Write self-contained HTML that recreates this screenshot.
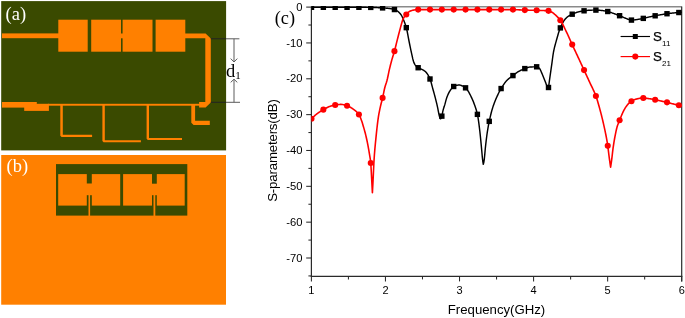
<!DOCTYPE html>
<html><head><meta charset="utf-8"><title>Figure</title>
<style>
html,body{margin:0;padding:0;background:#fff;}
svg{display:block}
.serif{font-family:"Liberation Serif",serif}
.sans{font-family:"Liberation Sans",sans-serif}
</style></head><body>
<svg width="685" height="318" viewBox="0 0 685 318">
<rect width="685" height="318" fill="#fff"/>
<!-- panel a -->
<rect x="1.2" y="1.1" width="224.9" height="149.3" fill="#3a4a00"/>
<g fill="#ff8000">
<rect x="2" y="33.4" width="57" height="4.8"/>
<rect x="58.3" y="19.7" width="29.4" height="32"/>
<rect x="91.2" y="19.7" width="29.8" height="32"/>
<rect x="120.5" y="33.5" width="3" height="4.8"/>
<rect x="122.6" y="19.7" width="29.9" height="32"/>
<rect x="155.6" y="19.7" width="29.7" height="32"/>
<path d="M185,33.4 L205.6,33.4 L210.8,38.4 L210.8,102.4 L205.6,107.4 L199.1,107.4 L199.1,102 L205.3,102 L205.3,38.3 L185,38.3 Z"/>
<rect x="2" y="102" width="34.8" height="5.6"/>
<rect x="24.2" y="103.8" width="24.7" height="7.1"/>
<rect x="48" y="103.8" width="152" height="1.9"/>
<path d="M60.3,105 L62.8,105 L62.8,134.8 L92.1,134.8 L92.1,137 L61.6,137 L60.3,135.7 Z"/>
<path d="M102.4,105 L104.8,105 L104.8,140.2 L140.9,140.2 L140.9,142.2 L103.6,142.2 L102.4,141 Z"/>
<path d="M146.6,105 L149,105 L149,137.9 L182,137.9 L182,140 L147.8,140 L146.6,138.8 Z"/>
<path d="M191.3,105 L195.1,105 L195.1,120.8 L209.8,120.8 L209.8,125 L193.6,125 L191.3,122.7 Z"/>
</g>
<text class="serif" transform="translate(15.8,20) scale(0.965,1)" text-anchor="middle" font-size="19.2" fill="#fff">(a)</text>
<!-- dimension -->
<g stroke="#222" stroke-width="1" fill="none">
<line x1="210.8" y1="38.8" x2="226" y2="38.8"/><line x1="210.8" y1="102.3" x2="226" y2="102.3"/>
</g>
<g stroke="#5c5c5c" stroke-width="1" fill="none">
<line x1="226" y1="38.8" x2="239.4" y2="38.8"/><line x1="226" y1="102.3" x2="240" y2="102.3"/>
<line x1="234" y1="38.8" x2="234" y2="61.5"/><path d="M230.7,58.6 L234,62 L237.3,58.6"/>
<line x1="234" y1="102.3" x2="234" y2="79.7"/><path d="M230.7,82.4 L234,79.2 L237.3,82.4"/>
</g>
<text class="serif" x="226.1" y="76.7" font-size="18.5" fill="#000">d<tspan font-size="11" dy="2">1</tspan></text>
<!-- panel b -->
<rect x="1.2" y="155" width="224.8" height="149.7" fill="#ff8000"/>
<rect x="56" y="164.1" width="131.3" height="51.5" fill="#3a4a00"/>
<g fill="#ff8000">
<rect x="58.2" y="174.1" width="28.6" height="31.5"/>
<rect x="91.8" y="174.1" width="28.4" height="31.5"/>
<rect x="123.1" y="174.1" width="28.9" height="31.5"/>
<rect x="156.8" y="174.1" width="27.9" height="31.5"/>
<rect x="86" y="183.5" width="6.5" height="11.7"/>
<rect x="151.5" y="183.7" width="6" height="11.5"/>
<rect x="88.5" y="195" width="1.6" height="21"/>
<rect x="153.5" y="195" width="1.8" height="21"/>
</g>
<text class="serif" transform="translate(17.3,171.9) scale(0.95,1)" text-anchor="middle" font-size="19.4" fill="#fff">(b)</text>
<!-- chart -->
<text class="serif" transform="translate(284.9,24.4) scale(0.955,1)" text-anchor="middle" font-size="19.2" fill="#000">(c)</text>
<defs><clipPath id="cp"><rect x="311.4" y="6.1" width="370.80000000000007" height="270.29999999999995"/></clipPath></defs>
<g stroke="#8a8a8a" stroke-width="1.6" fill="none">
<line x1="311.4" y1="6.8" x2="681.7" y2="6.8"/>
</g>
<g stroke="#2a2a2a" stroke-width="1.2" fill="none">
<line x1="311.4" y1="6.6" x2="311.4" y2="277.04999999999995"/>
<line x1="310.75" y1="276.4" x2="682.35" y2="276.4"/>
<line x1="681.7" y1="6.6" x2="681.7" y2="281.4"/>
</g>
<g stroke="#2a2a2a" stroke-width="1.05" fill="none"><line x1="306.2" y1="7.10" x2="311.4" y2="7.10"/><line x1="308.4" y1="25.02" x2="311.4" y2="25.02"/><line x1="306.2" y1="42.94" x2="311.4" y2="42.94"/><line x1="308.4" y1="60.86" x2="311.4" y2="60.86"/><line x1="306.2" y1="78.79" x2="311.4" y2="78.79"/><line x1="308.4" y1="96.71" x2="311.4" y2="96.71"/><line x1="306.2" y1="114.63" x2="311.4" y2="114.63"/><line x1="308.4" y1="132.55" x2="311.4" y2="132.55"/><line x1="306.2" y1="150.47" x2="311.4" y2="150.47"/><line x1="308.4" y1="168.39" x2="311.4" y2="168.39"/><line x1="306.2" y1="186.31" x2="311.4" y2="186.31"/><line x1="308.4" y1="204.24" x2="311.4" y2="204.24"/><line x1="306.2" y1="222.16" x2="311.4" y2="222.16"/><line x1="308.4" y1="240.08" x2="311.4" y2="240.08"/><line x1="306.2" y1="258.00" x2="311.4" y2="258.00"/><line x1="308.4" y1="275.92" x2="311.4" y2="275.92"/><line x1="311.40" y1="276.4" x2="311.40" y2="281.4"/><line x1="348.43" y1="276.4" x2="348.43" y2="279.4"/><line x1="385.46" y1="276.4" x2="385.46" y2="281.4"/><line x1="422.49" y1="276.4" x2="422.49" y2="279.4"/><line x1="459.52" y1="276.4" x2="459.52" y2="281.4"/><line x1="496.55" y1="276.4" x2="496.55" y2="279.4"/><line x1="533.58" y1="276.4" x2="533.58" y2="281.4"/><line x1="570.61" y1="276.4" x2="570.61" y2="279.4"/><line x1="607.64" y1="276.4" x2="607.64" y2="281.4"/><line x1="644.67" y1="276.4" x2="644.67" y2="279.4"/><line x1="681.70" y1="276.4" x2="681.70" y2="281.4"/></g>
<g class="sans" font-size="10.5" fill="#000"><text transform="translate(302.4,10.70) scale(1.07,1)" text-anchor="end">0</text><text transform="translate(302.4,46.54) scale(1.07,1)" text-anchor="end">-10</text><text transform="translate(302.4,82.39) scale(1.07,1)" text-anchor="end">-20</text><text transform="translate(302.4,118.23) scale(1.07,1)" text-anchor="end">-30</text><text transform="translate(302.4,154.07) scale(1.07,1)" text-anchor="end">-40</text><text transform="translate(302.4,189.91) scale(1.07,1)" text-anchor="end">-50</text><text transform="translate(302.4,225.76) scale(1.07,1)" text-anchor="end">-60</text><text transform="translate(302.4,261.60) scale(1.07,1)" text-anchor="end">-70</text><text transform="translate(311.40,293.8) scale(1.05,1)" text-anchor="middle">1</text><text transform="translate(385.46,293.8) scale(1.05,1)" text-anchor="middle">2</text><text transform="translate(459.52,293.8) scale(1.05,1)" text-anchor="middle">3</text><text transform="translate(533.58,293.8) scale(1.05,1)" text-anchor="middle">4</text><text transform="translate(607.64,293.8) scale(1.05,1)" text-anchor="middle">5</text><text transform="translate(681.70,293.8) scale(1.05,1)" text-anchor="middle">6</text></g>
<text class="sans" font-size="13.3" letter-spacing="-0.2" fill="#000" text-anchor="middle" transform="translate(277.4,150.6) rotate(-90)">S-parameters(dB)</text>
<text class="sans" font-size="13.2" fill="#000" text-anchor="middle" x="496.5" y="314">Frequency(GHz)</text>
<g clip-path="url(#cp)">
<path d="M311.3,7.30 L311.8,7.30 L312.3,7.30 L312.8,7.30 L313.3,7.30 L313.8,7.30 L314.3,7.30 L314.8,7.30 L315.3,7.30 L315.8,7.30 L316.3,7.30 L316.8,7.30 L317.3,7.30 L317.8,7.30 L318.3,7.30 L318.8,7.30 L319.3,7.30 L319.8,7.30 L320.3,7.30 L320.8,7.30 L321.3,7.30 L321.8,7.30 L322.3,7.30 L322.8,7.30 L323.3,7.30 L323.8,7.30 L324.3,7.30 L324.8,7.30 L325.3,7.30 L325.8,7.30 L326.3,7.30 L326.8,7.30 L327.3,7.30 L327.8,7.30 L328.3,7.30 L328.8,7.30 L329.3,7.30 L329.8,7.30 L330.3,7.30 L330.8,7.30 L331.3,7.30 L331.8,7.30 L332.3,7.30 L332.8,7.30 L333.3,7.30 L333.8,7.30 L334.3,7.30 L334.8,7.30 L335.3,7.30 L335.8,7.30 L336.3,7.30 L336.8,7.30 L337.3,7.30 L337.8,7.30 L338.3,7.30 L338.8,7.30 L339.3,7.30 L339.8,7.30 L340.3,7.30 L340.8,7.30 L341.3,7.30 L341.8,7.30 L342.3,7.30 L342.8,7.30 L343.3,7.30 L343.8,7.30 L344.3,7.30 L344.8,7.30 L345.3,7.30 L345.8,7.30 L346.3,7.30 L346.8,7.30 L347.3,7.30 L347.8,7.30 L348.3,7.30 L348.8,7.30 L349.3,7.30 L349.8,7.30 L350.3,7.30 L350.8,7.30 L351.3,7.30 L351.8,7.30 L352.3,7.30 L352.8,7.30 L353.3,7.30 L353.8,7.30 L354.3,7.30 L354.8,7.30 L355.3,7.30 L355.8,7.30 L356.3,7.30 L356.8,7.30 L357.3,7.30 L357.8,7.30 L358.3,7.30 L358.8,7.30 L359.3,7.30 L359.8,7.30 L360.3,7.30 L360.8,7.30 L361.3,7.30 L361.8,7.31 L362.3,7.31 L362.8,7.31 L363.3,7.32 L363.8,7.32 L364.3,7.32 L364.8,7.33 L365.3,7.33 L365.8,7.34 L366.3,7.34 L366.8,7.35 L367.3,7.36 L367.8,7.36 L368.3,7.37 L368.8,7.37 L369.3,7.38 L369.8,7.39 L370.3,7.39 L370.8,7.40 L371.3,7.41 L371.8,7.42 L372.3,7.43 L372.8,7.44 L373.3,7.46 L373.8,7.47 L374.3,7.49 L374.8,7.51 L375.3,7.53 L375.8,7.55 L376.3,7.57 L376.8,7.59 L377.3,7.62 L377.8,7.64 L378.3,7.67 L378.8,7.69 L379.3,7.72 L379.8,7.75 L380.3,7.78 L380.8,7.81 L381.3,7.83 L381.8,7.86 L382.3,7.89 L382.8,7.92 L383.3,7.96 L383.8,7.99 L384.3,8.03 L384.8,8.06 L385.3,8.10 L385.8,8.14 L386.3,8.19 L386.8,8.24 L387.3,8.28 L387.8,8.34 L388.3,8.39 L388.8,8.45 L389.3,8.51 L389.8,8.57 L390.3,8.64 L390.8,8.72 L391.3,8.80 L391.8,8.89 L392.3,8.99 L392.8,9.10 L393.3,9.23 L393.8,9.36 L394.3,9.51 L394.8,9.67 L395.3,9.86 L395.8,10.10 L396.3,10.37 L396.8,10.67 L397.3,11.00 L397.8,11.35 L398.3,11.73 L398.8,12.16 L399.3,12.65 L399.8,13.19 L400.3,13.78 L400.8,14.44 L401.3,15.15 L401.8,16.00 L402.3,16.99 L402.8,18.09 L403.3,19.27 L403.8,20.50 L404.3,21.75 L404.8,23.06 L405.3,24.45 L405.8,25.98 L406.3,27.67 L406.8,29.62 L407.3,32.01 L407.8,34.67 L408.3,37.40 L408.8,40.00 L409.3,42.49 L409.8,44.99 L410.3,47.47 L410.8,49.87 L411.3,52.16 L411.8,54.40 L412.3,56.70 L412.8,58.90 L413.3,60.84 L413.8,62.36 L414.3,63.45 L414.8,64.37 L415.3,65.14 L415.8,65.78 L416.3,66.31 L416.8,66.77 L417.3,67.17 L417.8,67.51 L418.3,67.82 L418.8,68.09 L419.3,68.32 L419.8,68.54 L420.3,68.75 L420.8,68.97 L421.3,69.20 L421.8,69.45 L422.3,69.70 L422.8,69.94 L423.3,70.19 L423.8,70.46 L424.3,70.76 L424.8,71.10 L425.3,71.48 L425.8,71.96 L426.3,72.54 L426.8,73.19 L427.3,73.92 L427.8,74.68 L428.3,75.49 L428.8,76.39 L429.3,77.39 L429.8,78.51 L430.3,79.77 L430.8,81.29 L431.3,83.07 L431.8,84.97 L432.3,86.89 L432.8,88.72 L433.3,90.51 L433.8,92.31 L434.3,94.13 L434.8,95.99 L435.3,97.90 L435.8,99.86 L436.3,101.86 L436.8,103.93 L437.3,106.10 L437.8,108.45 L438.3,111.06 L438.8,113.50 L439.3,115.73 L439.8,117.50 L440.3,118.73 L440.8,118.68 L441.3,117.80 L441.8,116.33 L442.3,114.20 L442.8,111.42 L443.3,109.39 L443.8,107.83 L444.3,106.34 L444.8,104.66 L445.3,102.82 L445.8,100.93 L446.3,99.13 L446.8,97.55 L447.3,96.24 L447.8,95.04 L448.3,93.92 L448.8,92.89 L449.3,91.94 L449.8,91.07 L450.3,90.29 L450.8,89.58 L451.3,88.91 L451.8,88.28 L452.3,87.71 L452.8,87.20 L453.3,86.78 L453.8,86.44 L454.3,86.15 L454.8,85.89 L455.3,85.66 L455.8,85.48 L456.3,85.34 L456.8,85.25 L457.3,85.17 L457.8,85.10 L458.3,85.04 L458.8,85.01 L459.3,85.00 L459.8,85.05 L460.3,85.16 L460.8,85.32 L461.3,85.50 L461.8,85.71 L462.3,85.92 L462.8,86.13 L463.3,86.36 L463.8,86.63 L464.3,86.93 L464.8,87.27 L465.3,87.64 L465.8,88.06 L466.3,88.59 L466.8,89.20 L467.3,89.86 L467.8,90.58 L468.3,91.36 L468.8,92.20 L469.3,93.10 L469.8,94.04 L470.3,95.02 L470.8,96.03 L471.3,97.07 L471.8,98.11 L472.3,99.19 L472.8,100.34 L473.3,101.56 L473.8,102.87 L474.3,104.19 L474.8,105.53 L475.3,106.93 L475.8,108.42 L476.3,110.05 L476.8,111.87 L477.3,113.91 L477.8,116.30 L478.3,119.35 L478.8,122.93 L479.3,126.87 L479.8,131.00 L480.3,135.55 L480.8,140.65 L481.3,145.92 L481.8,151.30 L482.3,157.00 L482.8,161.42 L483.3,164.30 L483.8,162.37 L484.3,159.25 L484.8,154.10 L485.3,148.44 L485.8,143.87 L486.3,139.68 L486.8,135.77 L487.3,132.21 L487.8,129.04 L488.3,126.16 L488.8,123.55 L489.3,121.13 L489.8,118.83 L490.3,116.63 L490.8,114.53 L491.3,112.55 L491.8,110.68 L492.3,108.95 L492.8,107.35 L493.3,105.84 L493.8,104.41 L494.3,103.05 L494.8,101.75 L495.3,100.50 L495.8,99.30 L496.3,98.13 L496.8,97.00 L497.3,95.89 L497.8,94.82 L498.3,93.77 L498.8,92.76 L499.3,91.79 L499.8,90.85 L500.3,89.94 L500.8,89.07 L501.3,88.24 L501.8,87.42 L502.3,86.62 L502.8,85.84 L503.3,85.07 L503.8,84.33 L504.3,83.61 L504.8,82.92 L505.3,82.26 L505.8,81.64 L506.3,81.05 L506.8,80.51 L507.3,80.00 L507.8,79.53 L508.3,79.09 L508.8,78.67 L509.3,78.28 L509.8,77.90 L510.3,77.53 L510.8,77.16 L511.3,76.80 L511.8,76.44 L512.3,76.08 L512.8,75.70 L513.3,75.31 L513.8,74.92 L514.3,74.52 L514.8,74.13 L515.3,73.74 L515.8,73.35 L516.3,72.97 L516.8,72.61 L517.3,72.26 L517.8,71.93 L518.3,71.62 L518.8,71.33 L519.3,71.05 L519.8,70.78 L520.3,70.52 L520.8,70.27 L521.3,70.03 L521.8,69.80 L522.3,69.57 L522.8,69.36 L523.3,69.15 L523.8,68.96 L524.3,68.77 L524.8,68.59 L525.3,68.41 L525.8,68.23 L526.3,68.04 L526.8,67.87 L527.3,67.70 L527.8,67.54 L528.3,67.39 L528.8,67.26 L529.3,67.15 L529.8,67.07 L530.3,67.01 L530.8,66.98 L531.3,66.96 L531.8,66.93 L532.3,66.91 L532.8,66.88 L533.3,66.86 L533.8,66.85 L534.3,66.83 L534.8,66.82 L535.3,66.81 L535.8,66.80 L536.3,66.80 L536.8,66.81 L537.3,66.93 L537.8,67.16 L538.3,67.49 L538.8,67.88 L539.3,68.32 L539.8,68.85 L540.3,69.69 L540.8,70.76 L541.3,71.95 L541.8,73.14 L542.3,74.28 L542.8,75.48 L543.3,76.72 L543.8,77.99 L544.3,79.26 L544.8,80.51 L545.3,81.76 L545.8,83.10 L546.3,84.39 L546.8,85.46 L547.3,86.24 L547.8,86.88 L548.3,87.36 L548.5,87.50 L549.0,83.81 L549.5,80.16 L550.0,76.57 L550.5,73.06 L551.0,69.58 L551.5,66.10 L552.0,62.55 L552.5,58.76 L553.0,55.08 L553.5,52.00 L554.0,49.56 L554.5,47.41 L555.0,45.47 L555.5,43.65 L556.0,41.86 L556.5,40.05 L557.0,38.24 L557.5,36.46 L558.0,34.73 L558.5,33.08 L559.0,31.51 L559.5,30.06 L560.0,28.75 L560.5,27.54 L561.0,26.39 L561.5,25.28 L562.0,24.23 L562.5,23.24 L563.0,22.31 L563.5,21.45 L564.0,20.67 L564.5,19.96 L565.0,19.33 L565.5,18.75 L566.0,18.22 L566.5,17.73 L567.0,17.28 L567.5,16.87 L568.0,16.50 L568.5,16.16 L569.0,15.84 L569.5,15.55 L570.0,15.27 L570.5,15.01 L571.0,14.76 L571.5,14.52 L572.0,14.29 L572.5,14.06 L573.0,13.84 L573.5,13.62 L574.0,13.41 L574.5,13.20 L575.0,13.00 L575.5,12.81 L576.0,12.62 L576.5,12.45 L577.0,12.29 L577.5,12.14 L578.0,12.00 L578.5,11.87 L579.0,11.75 L579.5,11.63 L580.0,11.52 L580.5,11.42 L581.0,11.31 L581.5,11.22 L582.0,11.13 L582.5,11.04 L583.0,10.96 L583.5,10.88 L584.0,10.81 L584.5,10.75 L585.0,10.68 L585.5,10.61 L586.0,10.55 L586.5,10.49 L587.0,10.43 L587.5,10.37 L588.0,10.33 L588.5,10.28 L589.0,10.25 L589.5,10.22 L590.0,10.20 L590.5,10.19 L591.0,10.17 L591.5,10.16 L592.0,10.15 L592.5,10.14 L593.0,10.13 L593.5,10.12 L594.0,10.11 L594.5,10.11 L595.0,10.10 L595.5,10.10 L596.0,10.10 L596.5,10.11 L597.0,10.12 L597.5,10.14 L598.0,10.17 L598.5,10.21 L599.0,10.25 L599.5,10.29 L600.0,10.33 L600.5,10.38 L601.0,10.43 L601.5,10.48 L602.0,10.53 L602.5,10.59 L603.0,10.65 L603.5,10.72 L604.0,10.79 L604.5,10.87 L605.0,10.96 L605.5,11.05 L606.0,11.14 L606.5,11.24 L607.0,11.35 L607.5,11.46 L608.0,11.57 L608.5,11.70 L609.0,11.84 L609.5,11.99 L610.0,12.16 L610.5,12.33 L611.0,12.51 L611.5,12.69 L612.0,12.88 L612.5,13.06 L613.0,13.25 L613.5,13.43 L614.0,13.61 L614.5,13.79 L615.0,13.97 L615.5,14.15 L616.0,14.33 L616.5,14.52 L617.0,14.71 L617.5,14.90 L618.0,15.09 L618.5,15.29 L619.0,15.48 L619.5,15.68 L620.0,15.88 L620.5,16.09 L621.0,16.30 L621.5,16.52 L622.0,16.74 L622.5,16.97 L623.0,17.19 L623.5,17.41 L624.0,17.63 L624.5,17.84 L625.0,18.04 L625.5,18.23 L626.0,18.41 L626.5,18.61 L627.0,18.81 L627.5,19.02 L628.0,19.22 L628.5,19.42 L629.0,19.60 L629.5,19.77 L630.0,19.90 L630.5,20.01 L631.0,20.08 L631.5,20.10 L632.0,20.09 L632.5,20.07 L633.0,20.04 L633.5,20.00 L634.0,19.94 L634.5,19.88 L635.0,19.82 L635.5,19.75 L636.0,19.68 L636.5,19.61 L637.0,19.54 L637.5,19.47 L638.0,19.40 L638.5,19.32 L639.0,19.24 L639.5,19.15 L640.0,19.05 L640.5,18.96 L641.0,18.86 L641.5,18.75 L642.0,18.65 L642.5,18.55 L643.0,18.44 L643.5,18.34 L644.0,18.23 L644.5,18.11 L645.0,17.99 L645.5,17.87 L646.0,17.74 L646.5,17.62 L647.0,17.49 L647.5,17.37 L648.0,17.25 L648.5,17.13 L649.0,17.02 L649.5,16.91 L650.0,16.81 L650.5,16.70 L651.0,16.60 L651.5,16.50 L652.0,16.40 L652.5,16.30 L653.0,16.20 L653.5,16.11 L654.0,16.01 L654.5,15.91 L655.0,15.82 L655.5,15.72 L656.0,15.63 L656.5,15.53 L657.0,15.44 L657.5,15.35 L658.0,15.25 L658.5,15.16 L659.0,15.07 L659.5,14.98 L660.0,14.89 L660.5,14.80 L661.0,14.72 L661.5,14.63 L662.0,14.54 L662.5,14.46 L663.0,14.37 L663.5,14.28 L664.0,14.20 L664.5,14.11 L665.0,14.03 L665.5,13.95 L666.0,13.87 L666.5,13.80 L667.0,13.73 L667.5,13.66 L668.0,13.59 L668.5,13.53 L669.0,13.47 L669.5,13.40 L670.0,13.34 L670.5,13.29 L671.0,13.23 L671.5,13.17 L672.0,13.12 L672.5,13.07 L673.0,13.02 L673.5,12.97 L674.0,12.92 L674.5,12.88 L675.0,12.84 L675.5,12.80 L676.0,12.75 L676.5,12.71 L677.0,12.67 L677.5,12.64 L678.0,12.60 L678.5,12.56 L679.0,12.52 L679.5,12.48 L680.0,12.44 L680.5,12.40 L681.0,12.36 L681.5,12.32 L681.7,12.30" fill="none" stroke="#000" stroke-width="1.45" stroke-linejoin="round"/>
<g fill="#000"><rect x="308.80" y="4.60" width="5.4" height="5.4"/><rect x="320.65" y="4.60" width="5.4" height="5.4"/><rect x="332.50" y="4.60" width="5.4" height="5.4"/><rect x="344.35" y="4.60" width="5.4" height="5.4"/><rect x="356.20" y="4.60" width="5.4" height="5.4"/><rect x="368.05" y="4.70" width="5.4" height="5.4"/><rect x="379.90" y="5.21" width="5.4" height="5.4"/><rect x="391.75" y="6.85" width="5.4" height="5.4"/><rect x="403.60" y="24.97" width="5.4" height="5.4"/><rect x="415.45" y="65.03" width="5.4" height="5.4"/><rect x="427.30" y="76.29" width="5.4" height="5.4"/><rect x="439.15" y="113.45" width="5.4" height="5.4"/><rect x="451.00" y="83.80" width="5.4" height="5.4"/><rect x="462.85" y="85.14" width="5.4" height="5.4"/><rect x="474.70" y="111.65" width="5.4" height="5.4"/><rect x="486.55" y="118.66" width="5.4" height="5.4"/><rect x="498.40" y="85.86" width="5.4" height="5.4"/><rect x="510.25" y="72.89" width="5.4" height="5.4"/><rect x="522.10" y="65.89" width="5.4" height="5.4"/><rect x="533.95" y="64.10" width="5.4" height="5.4"/><rect x="545.80" y="84.80" width="5.4" height="5.4"/><rect x="557.65" y="25.20" width="5.4" height="5.4"/><rect x="569.50" y="11.50" width="5.4" height="5.4"/><rect x="581.35" y="8.11" width="5.4" height="5.4"/><rect x="593.20" y="7.40" width="5.4" height="5.4"/><rect x="605.05" y="8.81" width="5.4" height="5.4"/><rect x="616.90" y="13.02" width="5.4" height="5.4"/><rect x="628.75" y="17.40" width="5.4" height="5.4"/><rect x="640.60" y="15.68" width="5.4" height="5.4"/><rect x="652.45" y="13.09" width="5.4" height="5.4"/><rect x="664.30" y="11.03" width="5.4" height="5.4"/><rect x="676.15" y="9.83" width="5.4" height="5.4"/></g>
<path d="M311.3,118.90 L311.8,118.40 L312.3,117.91 L312.8,117.43 L313.3,116.95 L313.8,116.49 L314.3,116.04 L314.8,115.60 L315.3,115.17 L315.8,114.75 L316.3,114.34 L316.8,113.95 L317.3,113.57 L317.8,113.20 L318.3,112.85 L318.8,112.49 L319.3,112.15 L319.8,111.82 L320.3,111.49 L320.8,111.17 L321.3,110.86 L321.8,110.55 L322.3,110.25 L322.8,109.95 L323.3,109.66 L323.8,109.37 L324.3,109.08 L324.8,108.79 L325.3,108.50 L325.8,108.22 L326.3,107.94 L326.8,107.68 L327.3,107.43 L327.8,107.19 L328.3,106.97 L328.8,106.77 L329.3,106.59 L329.8,106.42 L330.3,106.25 L330.8,106.08 L331.3,105.92 L331.8,105.77 L332.3,105.63 L332.8,105.50 L333.3,105.37 L333.8,105.26 L334.3,105.16 L334.8,105.06 L335.3,104.99 L335.8,104.91 L336.3,104.84 L336.8,104.76 L337.3,104.69 L337.8,104.63 L338.3,104.57 L338.8,104.52 L339.3,104.47 L339.8,104.44 L340.3,104.41 L340.8,104.40 L341.3,104.40 L341.8,104.43 L342.3,104.49 L342.8,104.56 L343.3,104.66 L343.8,104.77 L344.3,104.89 L344.8,105.03 L345.3,105.17 L345.8,105.33 L346.3,105.48 L346.8,105.64 L347.3,105.80 L347.8,105.98 L348.3,106.19 L348.8,106.43 L349.3,106.68 L349.8,106.95 L350.3,107.24 L350.8,107.54 L351.3,107.86 L351.8,108.18 L352.3,108.52 L352.8,108.86 L353.3,109.21 L353.8,109.56 L354.3,109.91 L354.8,110.28 L355.3,110.67 L355.8,111.08 L356.3,111.52 L356.8,111.99 L357.3,112.50 L357.8,113.06 L358.3,113.66 L358.8,114.32 L359.3,115.08 L359.8,116.08 L360.3,117.27 L360.8,118.58 L361.3,119.95 L361.8,121.35 L362.3,122.87 L362.8,124.49 L363.3,126.18 L363.8,127.90 L364.3,129.63 L364.8,131.43 L365.3,133.31 L365.8,135.32 L366.3,137.49 L366.8,139.79 L367.3,142.19 L367.8,144.71 L368.3,147.35 L368.8,150.12 L369.3,153.03 L369.8,156.12 L370.3,159.16 L370.8,163.52 L371.3,171.96 L371.8,181.51 L372.3,190.88 L372.4,192.80 L372.9,183.57 L373.4,173.31 L373.9,162.47 L374.4,154.71 L374.9,148.58 L375.4,143.27 L375.9,138.30 L376.4,133.41 L376.9,128.72 L377.4,124.35 L377.9,120.39 L378.4,116.96 L378.9,113.97 L379.4,111.29 L379.9,108.85 L380.4,106.55 L380.9,104.47 L381.4,102.57 L381.9,100.70 L382.4,98.74 L382.9,96.55 L383.4,94.10 L383.9,91.60 L384.4,89.25 L384.9,87.24 L385.4,85.54 L385.9,83.98 L386.4,82.43 L386.9,80.75 L387.4,78.78 L387.9,76.53 L388.4,74.12 L388.9,71.71 L389.4,69.43 L389.9,67.33 L390.4,65.31 L390.9,63.36 L391.4,61.47 L391.9,59.64 L392.4,57.92 L392.9,56.28 L393.4,54.67 L393.9,53.03 L394.4,51.32 L394.9,49.48 L395.4,47.51 L395.9,45.48 L396.4,43.42 L396.9,41.40 L397.4,39.42 L397.9,37.44 L398.4,35.47 L398.9,33.53 L399.4,31.62 L399.9,29.73 L400.4,27.86 L400.9,26.05 L401.4,24.30 L401.9,22.49 L402.4,20.77 L402.9,19.34 L403.4,18.34 L403.9,17.52 L404.4,16.83 L404.9,16.21 L405.4,15.63 L405.9,15.04 L406.4,14.42 L406.9,13.79 L407.4,13.19 L407.9,12.65 L408.4,12.22 L408.9,11.86 L409.4,11.54 L409.9,11.26 L410.4,11.02 L410.9,10.83 L411.4,10.65 L411.9,10.49 L412.4,10.35 L412.9,10.22 L413.4,10.11 L413.9,10.02 L414.4,9.94 L414.9,9.86 L415.4,9.78 L415.9,9.72 L416.4,9.66 L416.9,9.62 L417.4,9.60 L417.9,9.60 L418.4,9.60 L418.9,9.60 L419.4,9.60 L419.9,9.60 L420.4,9.60 L420.9,9.60 L421.4,9.60 L421.9,9.60 L422.4,9.60 L422.9,9.60 L423.4,9.60 L423.9,9.60 L424.4,9.60 L424.9,9.60 L425.4,9.60 L425.9,9.60 L426.4,9.60 L426.9,9.60 L427.4,9.60 L427.9,9.60 L428.4,9.60 L428.9,9.60 L429.4,9.60 L429.9,9.60 L430.4,9.60 L430.9,9.60 L431.4,9.60 L431.9,9.60 L432.4,9.60 L432.9,9.60 L433.4,9.60 L433.9,9.60 L434.4,9.60 L434.9,9.60 L435.4,9.60 L435.9,9.60 L436.4,9.60 L436.9,9.60 L437.4,9.60 L437.9,9.60 L438.4,9.60 L438.9,9.60 L439.4,9.60 L439.9,9.60 L440.4,9.60 L440.9,9.60 L441.4,9.60 L441.9,9.60 L442.4,9.60 L442.9,9.60 L443.4,9.60 L443.9,9.60 L444.4,9.60 L444.9,9.60 L445.4,9.60 L445.9,9.60 L446.4,9.60 L446.9,9.60 L447.4,9.60 L447.9,9.60 L448.4,9.60 L448.9,9.60 L449.4,9.60 L449.9,9.60 L450.4,9.60 L450.9,9.60 L451.4,9.60 L451.9,9.60 L452.4,9.60 L452.9,9.60 L453.4,9.60 L453.9,9.60 L454.4,9.60 L454.9,9.60 L455.4,9.60 L455.9,9.60 L456.4,9.60 L456.9,9.60 L457.4,9.60 L457.9,9.60 L458.4,9.60 L458.9,9.60 L459.4,9.60 L459.9,9.60 L460.4,9.60 L460.9,9.60 L461.4,9.60 L461.9,9.60 L462.4,9.60 L462.9,9.60 L463.4,9.60 L463.9,9.60 L464.4,9.60 L464.9,9.60 L465.4,9.60 L465.9,9.60 L466.4,9.60 L466.9,9.60 L467.4,9.60 L467.9,9.60 L468.4,9.60 L468.9,9.60 L469.4,9.60 L469.9,9.60 L470.4,9.60 L470.9,9.60 L471.4,9.60 L471.9,9.60 L472.4,9.60 L472.9,9.60 L473.4,9.60 L473.9,9.60 L474.4,9.60 L474.9,9.60 L475.4,9.60 L475.9,9.60 L476.4,9.60 L476.9,9.60 L477.4,9.60 L477.9,9.60 L478.4,9.60 L478.9,9.60 L479.4,9.60 L479.9,9.60 L480.4,9.60 L480.9,9.60 L481.4,9.60 L481.9,9.60 L482.4,9.60 L482.9,9.60 L483.4,9.60 L483.9,9.60 L484.4,9.60 L484.9,9.60 L485.4,9.60 L485.9,9.60 L486.4,9.60 L486.9,9.60 L487.4,9.60 L487.9,9.60 L488.4,9.60 L488.9,9.60 L489.4,9.60 L489.9,9.60 L490.4,9.60 L490.9,9.60 L491.4,9.60 L491.9,9.60 L492.4,9.60 L492.9,9.60 L493.4,9.60 L493.9,9.60 L494.4,9.60 L494.9,9.60 L495.4,9.60 L495.9,9.60 L496.4,9.60 L496.9,9.60 L497.4,9.60 L497.9,9.60 L498.4,9.60 L498.9,9.60 L499.4,9.60 L499.9,9.60 L500.4,9.60 L500.9,9.60 L501.4,9.60 L501.9,9.60 L502.4,9.60 L502.9,9.60 L503.4,9.60 L503.9,9.60 L504.4,9.60 L504.9,9.60 L505.4,9.60 L505.9,9.60 L506.4,9.60 L506.9,9.60 L507.4,9.60 L507.9,9.60 L508.4,9.60 L508.9,9.60 L509.4,9.60 L509.9,9.60 L510.4,9.60 L510.9,9.60 L511.4,9.60 L511.9,9.60 L512.4,9.60 L512.9,9.60 L513.4,9.61 L513.9,9.61 L514.4,9.63 L514.9,9.64 L515.4,9.66 L515.9,9.68 L516.4,9.70 L516.9,9.73 L517.4,9.75 L517.9,9.78 L518.4,9.81 L518.9,9.84 L519.4,9.87 L519.9,9.90 L520.4,9.92 L520.9,9.95 L521.4,9.98 L521.9,10.00 L522.4,10.03 L522.9,10.05 L523.4,10.07 L523.9,10.09 L524.4,10.10 L524.9,10.11 L525.4,10.12 L525.9,10.13 L526.4,10.14 L526.9,10.15 L527.4,10.16 L527.9,10.17 L528.4,10.17 L528.9,10.18 L529.4,10.19 L529.9,10.19 L530.4,10.20 L530.9,10.21 L531.4,10.21 L531.9,10.22 L532.4,10.23 L532.9,10.24 L533.4,10.24 L533.9,10.25 L534.4,10.26 L534.9,10.27 L535.4,10.28 L535.9,10.29 L536.4,10.30 L536.9,10.32 L537.4,10.33 L537.9,10.34 L538.4,10.36 L538.9,10.38 L539.4,10.40 L539.9,10.42 L540.4,10.44 L540.9,10.46 L541.4,10.48 L541.9,10.50 L542.4,10.52 L542.9,10.53 L543.4,10.55 L543.9,10.57 L544.4,10.58 L544.9,10.60 L545.4,10.62 L545.9,10.64 L546.4,10.67 L546.9,10.70 L547.4,10.73 L547.9,10.77 L548.4,10.82 L548.9,10.92 L549.4,11.07 L549.9,11.26 L550.4,11.48 L550.9,11.72 L551.4,11.98 L551.9,12.25 L552.4,12.53 L552.9,12.85 L553.4,13.22 L553.9,13.62 L554.4,14.04 L554.9,14.49 L555.4,14.95 L555.9,15.41 L556.4,15.87 L556.9,16.35 L557.4,16.84 L557.9,17.35 L558.4,17.88 L558.9,18.44 L559.4,19.04 L559.9,19.67 L560.4,20.34 L560.9,21.08 L561.4,21.88 L561.9,22.75 L562.4,23.67 L562.9,24.63 L563.4,25.63 L563.9,26.65 L564.4,27.69 L564.9,28.73 L565.4,29.77 L565.9,30.80 L566.4,31.82 L566.9,32.87 L567.4,33.94 L567.9,35.03 L568.4,36.13 L568.9,37.25 L569.4,38.37 L569.9,39.49 L570.4,40.62 L570.9,41.74 L571.4,42.85 L571.9,43.95 L572.4,45.03 L572.9,46.11 L573.4,47.18 L573.9,48.25 L574.4,49.32 L574.9,50.38 L575.4,51.45 L575.9,52.51 L576.4,53.58 L576.9,54.64 L577.4,55.71 L577.9,56.79 L578.4,57.86 L578.9,58.94 L579.4,60.02 L579.9,61.10 L580.4,62.18 L580.9,63.26 L581.4,64.35 L581.9,65.43 L582.4,66.51 L582.9,67.60 L583.4,68.68 L583.9,69.77 L584.4,70.85 L584.9,71.93 L585.4,73.02 L585.9,74.10 L586.4,75.18 L586.9,76.27 L587.4,77.35 L587.9,78.43 L588.4,79.52 L588.9,80.61 L589.4,81.69 L589.9,82.78 L590.4,83.86 L590.9,84.91 L591.4,85.93 L591.9,86.95 L592.4,87.96 L592.9,88.99 L593.4,90.04 L593.9,91.12 L594.4,92.24 L594.9,93.42 L595.4,94.66 L595.9,95.97 L596.4,97.39 L596.9,98.90 L597.4,100.51 L597.9,102.18 L598.4,103.92 L598.9,105.71 L599.4,107.53 L599.9,109.36 L600.4,111.22 L600.9,113.11 L601.4,115.06 L601.9,117.07 L602.4,119.13 L602.9,121.24 L603.4,123.42 L603.9,125.65 L604.4,127.91 L604.9,130.20 L605.4,132.55 L605.9,135.02 L606.4,137.62 L606.9,140.41 L607.4,143.43 L607.9,146.96 L608.4,150.91 L608.9,154.99 L609.4,158.93 L609.9,162.51 L610.4,165.88 L610.6,167.20 L611.1,163.96 L611.6,160.40 L612.1,156.29 L612.6,151.88 L613.1,147.90 L613.6,144.51 L614.1,141.38 L614.6,138.49 L615.1,135.81 L615.6,133.30 L616.1,130.91 L616.6,128.72 L617.1,126.84 L617.6,125.27 L618.1,123.93 L618.6,122.71 L619.1,121.53 L619.6,120.30 L620.1,119.05 L620.6,117.80 L621.1,116.54 L621.6,115.31 L622.1,114.11 L622.6,112.96 L623.1,111.87 L623.6,110.85 L624.1,109.92 L624.6,109.04 L625.1,108.20 L625.6,107.40 L626.1,106.64 L626.6,105.93 L627.1,105.26 L627.6,104.64 L628.1,104.08 L628.6,103.55 L629.1,103.04 L629.6,102.57 L630.1,102.15 L630.6,101.77 L631.1,101.44 L631.6,101.13 L632.1,100.84 L632.6,100.56 L633.1,100.30 L633.6,100.06 L634.1,99.83 L634.6,99.61 L635.1,99.42 L635.6,99.25 L636.1,99.10 L636.6,98.98 L637.1,98.86 L637.6,98.74 L638.1,98.63 L638.6,98.52 L639.1,98.42 L639.6,98.32 L640.1,98.24 L640.6,98.16 L641.1,98.10 L641.6,98.05 L642.1,98.02 L642.6,98.00 L643.1,98.00 L643.6,98.02 L644.1,98.05 L644.6,98.09 L645.1,98.14 L645.6,98.20 L646.1,98.27 L646.6,98.34 L647.1,98.41 L647.6,98.48 L648.1,98.55 L648.6,98.61 L649.1,98.68 L649.6,98.75 L650.1,98.82 L650.6,98.90 L651.1,98.98 L651.6,99.06 L652.1,99.15 L652.6,99.23 L653.1,99.32 L653.6,99.41 L654.1,99.51 L654.6,99.60 L655.1,99.70 L655.6,99.80 L656.1,99.90 L656.6,100.01 L657.1,100.12 L657.6,100.24 L658.1,100.35 L658.6,100.47 L659.1,100.58 L659.6,100.70 L660.1,100.81 L660.6,100.92 L661.1,101.03 L661.6,101.14 L662.1,101.26 L662.6,101.37 L663.1,101.48 L663.6,101.59 L664.1,101.70 L664.6,101.81 L665.1,101.93 L665.6,102.04 L666.1,102.16 L666.6,102.28 L667.1,102.40 L667.6,102.52 L668.1,102.64 L668.6,102.76 L669.1,102.89 L669.6,103.02 L670.1,103.14 L670.6,103.27 L671.1,103.40 L671.6,103.52 L672.1,103.65 L672.6,103.78 L673.1,103.90 L673.6,104.02 L674.1,104.15 L674.6,104.27 L675.1,104.39 L675.6,104.52 L676.1,104.64 L676.6,104.76 L677.1,104.88 L677.6,105.01 L678.1,105.13 L678.6,105.25 L679.1,105.37 L679.6,105.49 L680.1,105.62 L680.6,105.74 L681.1,105.86 L681.6,105.98 L681.7,106.00" fill="none" stroke="#f00" stroke-width="1.6" stroke-linejoin="round"/>
<g fill="#f00"><circle cx="311.50" cy="118.70" r="3.05"/><circle cx="323.35" cy="109.63" r="3.05"/><circle cx="335.20" cy="105.00" r="3.05"/><circle cx="347.05" cy="105.72" r="3.05"/><circle cx="358.90" cy="114.46" r="3.05"/><circle cx="370.75" cy="162.93" r="3.05"/><circle cx="382.60" cy="97.90" r="3.05"/><circle cx="394.45" cy="51.14" r="3.05"/><circle cx="406.30" cy="14.55" r="3.05"/><circle cx="418.15" cy="9.60" r="3.05"/><circle cx="430.00" cy="9.60" r="3.05"/><circle cx="441.85" cy="9.60" r="3.05"/><circle cx="453.70" cy="9.60" r="3.05"/><circle cx="465.55" cy="9.60" r="3.05"/><circle cx="477.40" cy="9.60" r="3.05"/><circle cx="489.25" cy="9.60" r="3.05"/><circle cx="501.10" cy="9.60" r="3.05"/><circle cx="512.95" cy="9.60" r="3.05"/><circle cx="524.80" cy="10.11" r="3.05"/><circle cx="536.65" cy="10.31" r="3.05"/><circle cx="548.50" cy="10.84" r="3.05"/><circle cx="560.35" cy="20.27" r="3.05"/><circle cx="572.20" cy="44.60" r="3.05"/><circle cx="584.05" cy="70.09" r="3.05"/><circle cx="595.90" cy="95.97" r="3.05"/><circle cx="607.75" cy="145.84" r="3.05"/><circle cx="619.60" cy="120.30" r="3.05"/><circle cx="631.45" cy="101.22" r="3.05"/><circle cx="643.30" cy="98.01" r="3.05"/><circle cx="655.15" cy="99.71" r="3.05"/><circle cx="667.00" cy="102.37" r="3.05"/><circle cx="678.85" cy="105.31" r="3.05"/></g>
</g>
<!-- legend -->
<line x1="620.6" y1="36.5" x2="650" y2="36.5" stroke="#000" stroke-width="1.15"/>
<rect x="632.8" y="34" width="5" height="5" fill="#000"/>
<line x1="620.6" y1="56.6" x2="650" y2="56.6" stroke="#f00" stroke-width="1.15"/>
<circle cx="635.3" cy="56.6" r="3.05" fill="#f00"/>
<text class="sans" x="652.9" y="41" font-size="13.3" fill="#000" stroke="#000" stroke-width="0.25">S<tspan font-size="8" dy="5.2" dx="0.3" stroke="none">11</tspan></text>
<text class="sans" x="652.9" y="61" font-size="13.3" fill="#000" stroke="#000" stroke-width="0.25">S<tspan font-size="8" dy="5.2" dx="0.3" stroke="none">21</tspan></text>
</svg>
</body></html>
